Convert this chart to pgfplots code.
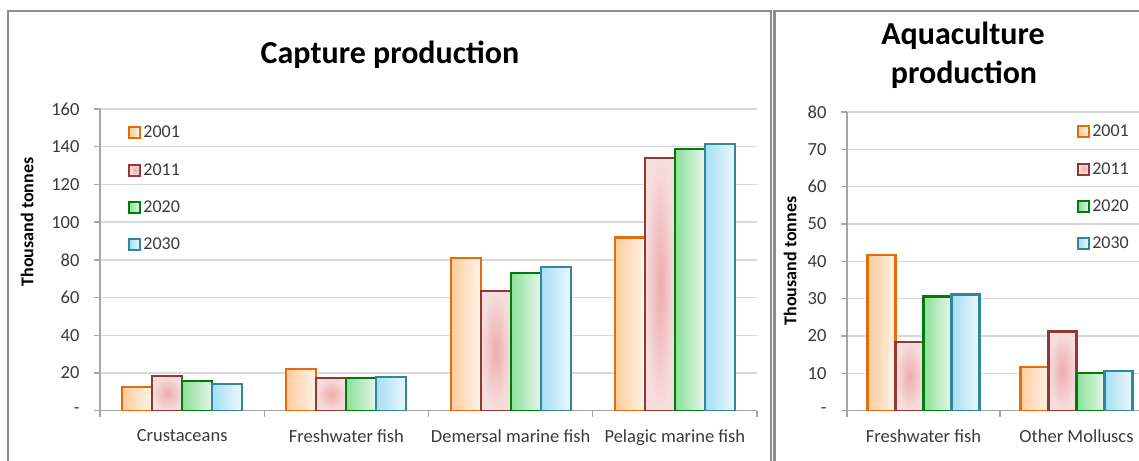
\documentclass[border=0pt]{standalone}
\usepackage{pgfplots}
\pgfplotsset{compat=1.18}
\usepackage{fontspec}
\setmainfont{Carlito}
\definecolor{panelgray}{HTML}{8C8C8C}
\definecolor{gridgray}{HTML}{D9D9D9}
\definecolor{axisgray}{HTML}{A6A6A6}
\definecolor{txt}{HTML}{3A3A3A}
\definecolor{c1e}{HTML}{E46C0A}\definecolor{c1l}{HTML}{FFCC9C}\definecolor{c1r}{HTML}{FFF4EA}
\definecolor{c2e}{HTML}{953735}\definecolor{c2i}{HTML}{EEACAC}\definecolor{c2o}{HTML}{F7DEDE}
\definecolor{c3e}{HTML}{007A0A}\definecolor{c3l}{HTML}{8CDF9A}\definecolor{c3r}{HTML}{E6F7E8}
\definecolor{c4e}{HTML}{31859C}\definecolor{c4l}{HTML}{A6DEF2}\definecolor{c4r}{HTML}{ECF8FD}
\pgfplotsset{
  fishbars/.style={
    scale only axis, ymin=0,
    ybar=0pt,
    axis x line*=bottom, axis y line*=left,
    axis line style={draw=axisgray, line width=1.3pt, -},
    ymajorgrids, grid style={draw=gridgray, line width=1.3pt},
    tick align=outside,
    major x tick style={draw=none},
    minor x tick style={draw=axisgray, line width=1.3pt},
    major y tick style={draw=axisgray, line width=1.3pt},
    major tick length=6pt, minor tick length=6pt,
    xtick pos=bottom, ytick pos=left,
    ticklabel style={font=\fontsize{18.5}{21}\selectfont, text=txt},
    every y tick label/.append style={xshift=-11pt},
    xticklabel style={yshift=-9pt},
    ylabel style={font=\fontsize{18}{21}\selectfont\bfseries, anchor=center},
    legend image code/.code={\draw[##1, line width=2pt] (0pt,-5.5pt) rectangle (11pt,5.5pt);},
    legend cell align=left,
    legend style={draw=none, fill=none, inner sep=0pt, row sep=20pt,
      font=\fontsize{18}{21}\selectfont, text=txt, anchor=north west},
  },
  s1/.style={draw=c1e, line width=2.2pt, left color=c1l, right color=c1r},
  s2/.style={draw=c2e, line width=2.2pt, inner color=c2i, outer color=c2o},
  s3/.style={draw=c3e, line width=2.2pt, left color=c3l, right color=c3r},
  s4/.style={draw=c4e, line width=2.2pt, left color=c4l, right color=c4r},
}
\begin{document}
\begin{tikzpicture}[x=1pt,y=1pt]
\path[use as bounding box] (0,0) rectangle (1139,-460);
\draw[panelgray, line width=2.5pt] (8,-475) -- (8,-11) -- (771,-11) -- (771,-475);
\draw[panelgray, line width=2.5pt] (774.5,-475) -- (774.5,-11) -- (1150,-11);
% Left panel: capture production
\begin{axis}[fishbars,
  at={(100pt,-410.7pt)}, anchor=south west,
  width=657pt, height=301.7pt,
  xmin=-0.5, xmax=3.5, ymax=160,
  bar width=30pt,
  L1/.style={s1, bar shift=-45pt},
  L2/.style={s2, bar shift=-15pt},
  L3/.style={s3, bar shift=15pt},
  L4/.style={s4, bar shift=45pt},
  xtick={0,1,2,3},
  xticklabels={Crustaceans, Freshwater fish, Demersal marine fish, Pelagic marine fish},
  minor xtick={-0.5,0.5,1.5,2.5,3.5},
  ytick={0,20,40,60,80,100,120,140,160},
  yticklabels={-,20,40,60,80,100,120,140,160},
  ylabel={Thousand tonnes},
  ylabel style={at={(axis description cs:-0.111,0.6255)}},
  legend style={at={(axis description cs:0.043,0.95)}},
]
\addplot[L1] coordinates {(0,12.4)};
\addplot[L2] coordinates {(0,18.4)};
\addplot[L3] coordinates {(0,15.7)};
\addplot[L4] coordinates {(0,14.3)};
\addplot[L1, forget plot] coordinates {(1,22.0)};
\addplot[L1, forget plot] coordinates {(2,81.1)};
\addplot[L1, forget plot] coordinates {(3,91.9)};
\addplot[L2, forget plot] coordinates {(1,17.2)};
\addplot[L2, forget plot] coordinates {(2,63.5)};
\addplot[L2, forget plot] coordinates {(3,134.2)};
\addplot[L3, forget plot] coordinates {(1,17.2)};
\addplot[L3, forget plot] coordinates {(2,72.9)};
\addplot[L3, forget plot] coordinates {(3,138.8)};
\addplot[L4, forget plot] coordinates {(1,17.9)};
\addplot[L4, forget plot] coordinates {(2,76.4)};
\addplot[L4, forget plot] coordinates {(3,141.4)};
\legend{2001,2011,2020,2030}
\end{axis}
% Right panel: aquaculture production
\begin{axis}[fishbars,
  at={(847pt,-410.7pt)}, anchor=south west,
  width=292pt, height=298.7pt,
  xmin=-0.5, xmax=1.4085, ymax=80,
  bar width=28pt,
  R1/.style={s1, bar shift=-42pt},
  R2/.style={s2, bar shift=-14pt},
  R3/.style={s3, bar shift=14pt},
  R4/.style={s4, bar shift=42pt},
  xtick={0,1},
  xticklabels={Freshwater fish, Other Molluscs},
  minor xtick={-0.5,0.5},
  ytick={0,10,20,30,40,50,60,70,80},
  yticklabels={-,10,20,30,40,50,60,70,80},
  ylabel={Thousand tonnes},
  ylabel style={at={(axis description cs:-0.1952,0.501)}},
  legend style={at={(axis description cs:0.788,0.963)}},
]
\addplot[R1] coordinates {(0,41.7)};
\addplot[R2] coordinates {(0,18.5)};
\addplot[R3] coordinates {(0,30.6)};
\addplot[R4] coordinates {(0,31.1)};
\addplot[R1, forget plot] coordinates {(1,11.8)};
\addplot[R2, forget plot] coordinates {(1,21.2)};
\addplot[R3, forget plot] coordinates {(1,10.2)};
\addplot[R4, forget plot] coordinates {(1,10.6)};
\legend{2001,2011,2020,2030}
\end{axis}
\node[font=\fontsize{32}{38}\selectfont\bfseries, anchor=base] at (390,-63.3) {Capture production};
\node[font=\fontsize{32}{38}\selectfont\bfseries, anchor=base] at (963,-45) {Aquaculture};
\node[font=\fontsize{32}{38}\selectfont\bfseries, anchor=base] at (964,-83.3) {production};
\end{tikzpicture}
\end{document}
